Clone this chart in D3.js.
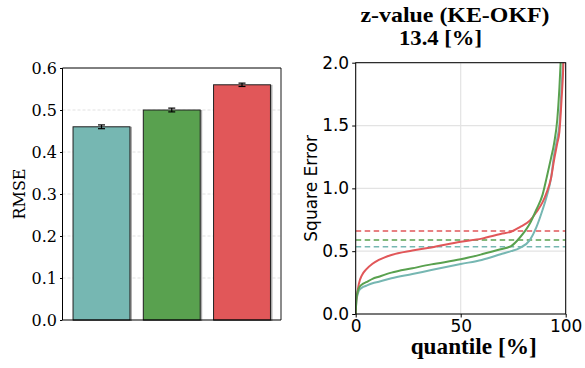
<!DOCTYPE html>
<html lang="en">
<head>
  <meta charset="utf-8" />
  <title>RMSE and square error quantiles</title>
  <script src="https://cdnjs.cloudflare.com/ajax/libs/d3/7.8.5/d3.min.js"></script>
  <style>
    body { margin: 0; background: #fff; }
    svg { display: block; }
  </style>
</head>
<body>
  <svg id="chart" width="585" height="368"></svg>

<script>
// ---- data ----
const methods = ["A", "B", "C"];
const colors = ["#76b7b2", "#59a14f", "#e15759"];
const rmse = [0.46, 0.50, 0.56];
const rmseErr = [0.0045, 0.0045, 0.004];
const rmseTicks = [0, 0.1, 0.2, 0.3, 0.4, 0.5, 0.6];

const quantiles = [0, 0.3, 0.7, 1.5, 3, 5, 8, 11, 17, 27, 36, 50, 60, 69, 74, 78, 83, 86, 89, 91, 93, 94.5, 96, 97, 98, 99, 100];
const errTeal  = [0, 0.10, 0.14, 0.185, 0.21, 0.225, 0.245, 0.257, 0.284, 0.318, 0.35, 0.398, 0.43, 0.475, 0.50, 0.525, 0.59, 0.69, 0.83, 0.94, 1.08, 1.27, 1.40, 1.505, 1.80, 2.15, 3.0];
const errGreen = [0, 0.11, 0.16, 0.205, 0.235, 0.253, 0.28, 0.297, 0.329, 0.364, 0.395, 0.435, 0.475, 0.515, 0.54, 0.605, 0.722, 0.83, 0.95, 1.09, 1.24, 1.36, 1.55, 1.80, 2.15, 2.5, 3.2];
const errRed   = [0, 0.12, 0.16, 0.24, 0.31, 0.355, 0.40, 0.43, 0.47, 0.505, 0.53, 0.575, 0.60, 0.637, 0.655, 0.69, 0.745, 0.81, 0.89, 0.97, 1.08, 1.23, 1.36, 1.45, 1.70, 2.05, 3.0];
const meanLines = [0.536, 0.589, 0.66];
const seTicks = [0, 0.5, 1.0, 1.5, 2.0];
const qTicks = [0, 50, 100];

const svg = d3.select("#chart");

// ------------------- BAR CHART -------------------
{
  const left = 62.5, right = 281, top = 68, bottom = 320;
  const g = svg.append("g");

  const x = d3.scaleBand().domain(methods).range([left, right]).paddingInner(0.19).paddingOuter(0.15);
  const y = d3.scaleLinear().domain([0, 0.6]).range([bottom, top]);

  // dashed grid
  g.selectAll(".grid").data(rmseTicks.slice(1, -1)).enter().append("line")
    .attr("x1", left).attr("x2", right)
    .attr("y1", d => y(d)).attr("y2", d => y(d))
    .attr("stroke", "#d9d9d9").attr("stroke-width", 0.8).attr("stroke-dasharray", "3,2");

  const bars = methods.map((m, i) => ({ m, v: rmse[i], e: rmseErr[i], c: colors[i] }));

  // shadow
  g.selectAll(".shadow").data(bars).enter().append("rect")
    .attr("x", d => x(d.m) + 1).attr("y", d => y(d.v) + 1)
    .attr("width", x.bandwidth()).attr("height", d => y(0) - y(d.v) - 1)
    .attr("fill", "none").attr("stroke", "#aaa").attr("stroke-width", 2);

  g.selectAll(".bar").data(bars).enter().append("rect")
    .attr("x", d => x(d.m)).attr("y", d => y(d.v))
    .attr("width", x.bandwidth()).attr("height", d => y(0) - y(d.v))
    .attr("fill", d => d.c).attr("stroke", "#222").attr("stroke-width", 1);

  // error bars
  bars.forEach(d => {
    const cx = x(d.m) + x.bandwidth() / 2;
    g.append("line").attr("x1", cx).attr("x2", cx).attr("y1", y(d.v + d.e)).attr("y2", y(d.v - d.e))
      .attr("stroke", "#000").attr("stroke-width", 1.2);
    [d.v + d.e, d.v - d.e].forEach(v => {
      g.append("line").attr("x1", cx - 3.5).attr("x2", cx + 3.5).attr("y1", y(v)).attr("y2", y(v))
        .attr("stroke", "#000").attr("stroke-width", 1.2);
    });
  });

  // spines
  g.append("line").attr("x1", right).attr("x2", right).attr("y1", top).attr("y2", bottom).attr("stroke", "#666").attr("stroke-width", 1.5);
  g.append("line").attr("x1", left).attr("x2", right).attr("y1", top).attr("y2", top).attr("stroke", "#000");
  g.append("line").attr("x1", left).attr("x2", right).attr("y1", bottom).attr("y2", bottom).attr("stroke", "#000");
  g.append("line").attr("x1", left).attr("x2", left).attr("y1", top).attr("y2", bottom).attr("stroke", "#000");

  const yAxis = g.append("g").attr("transform", `translate(${left},0)`)
    .call(d3.axisLeft(y).tickValues(rmseTicks).tickFormat(d3.format(".1f")).tickSize(2.5).tickPadding(3));
  yAxis.select(".domain").remove();
  yAxis.selectAll("text").attr("font-family", "DejaVu Serif").attr("font-size", 16).attr("fill", "#000");

  g.append("text").attr("transform", `translate(25,${(top + bottom) / 2}) rotate(-90)`)
    .attr("text-anchor", "middle").attr("font-family", "DejaVu Serif").attr("font-size", 16).text("RMSE");
}

// ------------------- QUANTILE CHART -------------------
{
  const left = 355.7, right = 565.7, top = 62.7, bottom = 314;
  const g = svg.append("g");

  const x = d3.scaleLinear().domain([0, 100]).range([left, right]);
  const y = d3.scaleLinear().domain([0, 2]).range([bottom, top]);

  svg.append("clipPath").attr("id", "clip").append("rect")
    .attr("x", left).attr("y", top).attr("width", right - left).attr("height", bottom - top);

  // grid
  g.selectAll(".gy").data(seTicks).enter().append("line")
    .attr("x1", left).attr("x2", right).attr("y1", d => y(d)).attr("y2", d => y(d))
    .attr("stroke", "#e3e3e3").attr("stroke-width", 1.2);
  g.selectAll(".gx").data(qTicks).enter().append("line")
    .attr("x1", d => x(d)).attr("x2", d => x(d)).attr("y1", top).attr("y2", bottom)
    .attr("stroke", "#e3e3e3").attr("stroke-width", 1.2);

  const plot = g.append("g").attr("clip-path", "url(#clip)");

  // mean dashed lines
  plot.selectAll(".mean").data(meanLines).enter().append("line")
    .attr("x1", left).attr("x2", right).attr("y1", d => y(d)).attr("y2", d => y(d))
    .attr("stroke", (d, i) => colors[i]).attr("stroke-width", 1.5).attr("stroke-dasharray", "5.5,3.5");

  const line = d3.line().x(d => x(d[0])).y(d => y(d[1])).curve(d3.curveMonotoneX);
  [[errTeal, colors[0]], [errRed, colors[2]], [errGreen, colors[1]]].forEach(([vals, c]) => {
    plot.append("path")
      .datum(quantiles.map((q, i) => [q, vals[i]]))
      .attr("fill", "none").attr("stroke", c).attr("stroke-width", 2).attr("d", line);
  });

  g.append("rect").attr("x", left).attr("y", top).attr("width", right - left).attr("height", bottom - top)
    .attr("fill", "none").attr("stroke", "#000").attr("stroke-width", 1);

  const yAxis = g.append("g").attr("transform", `translate(${left},0)`)
    .call(d3.axisLeft(y).tickValues(seTicks).tickFormat(d3.format(".1f")).tickSize(3.5).tickPadding(3));
  yAxis.select(".domain").remove();
  yAxis.selectAll("text").attr("font-family", "DejaVu Sans").attr("font-size", 17).attr("fill", "#000");

  const xAxis = g.append("g").attr("transform", `translate(0,${bottom})`)
    .call(d3.axisBottom(x).tickValues(qTicks).tickFormat(d3.format("d")).tickSize(3.5).tickPadding(2));
  xAxis.select(".domain").remove();
  xAxis.selectAll("text").attr("font-family", "DejaVu Sans").attr("font-size", 17).attr("fill", "#000");

  g.append("text").attr("transform", `translate(317,${(top + bottom) / 2}) rotate(-90)`)
    .attr("text-anchor", "middle").attr("font-family", "DejaVu Sans").attr("font-size", 17).text("Square Error");

  g.append("text").attr("x", 473.7).attr("y", 354)
    .attr("text-anchor", "middle").attr("font-family", "Liberation Serif").attr("font-weight", "bold")
    .attr("font-size", 22.5).attr("textLength", 126).attr("lengthAdjust", "spacingAndGlyphs")
    .text("quantile [%]");

  g.append("text").attr("x", 455).attr("y", 22)
    .attr("text-anchor", "middle").attr("font-family", "Liberation Serif").attr("font-weight", "bold")
    .attr("font-size", 22).attr("textLength", 189).attr("lengthAdjust", "spacingAndGlyphs")
    .text("z-value (KE-OKF)");
  g.append("text").attr("x", 440.5).attr("y", 45)
    .attr("text-anchor", "middle").attr("font-family", "Liberation Serif").attr("font-weight", "bold")
    .attr("font-size", 22).attr("textLength", 83).attr("lengthAdjust", "spacingAndGlyphs")
    .text("13.4 [%]");
}
</script>
</body>
</html>
